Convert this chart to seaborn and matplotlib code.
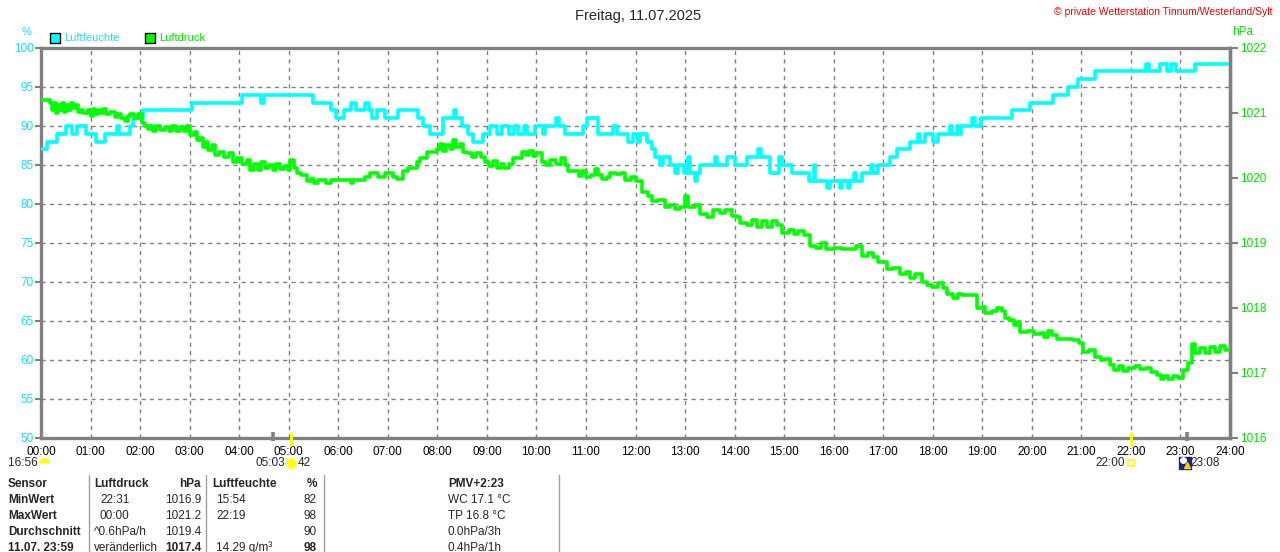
import matplotlib
matplotlib.use("Agg")
import matplotlib.pyplot as plt
from matplotlib.lines import Line2D
from matplotlib.patches import Rectangle
import seaborn as sns

# ? humidity (%) as steps: start hour -> value
hum_hours = [0.00, 0.12, 0.32, 0.50, 0.62, 0.72, 0.90, 1.12, 1.30, 1.53, 1.58, 1.80, 1.85, 2.05,
             3.05, 4.06, 4.45, 4.50, 5.50, 5.85, 5.95, 6.12, 6.25, 6.35, 6.55, 6.62, 6.68, 6.78,
             6.95, 7.20, 7.60, 7.72, 7.85, 8.12, 8.33, 8.38, 8.50, 8.62, 8.72, 8.92, 9.06, 9.20,
             9.30, 9.45, 9.55, 9.62, 9.75, 9.82, 9.97, 10.14, 10.17, 10.40, 10.45, 10.58, 10.94,
             11.03, 11.25, 11.55, 11.62, 11.85, 11.95, 12.05, 12.10, 12.24, 12.33, 12.40, 12.50,
             12.55, 12.70, 12.80, 12.85, 12.97, 13.05, 13.10, 13.20, 13.25, 13.30, 13.60, 13.65,
             13.84, 14.01, 14.25, 14.48, 14.53, 14.72, 14.90, 14.95, 15.15, 15.50, 15.60, 15.63,
             15.87, 15.93, 16.12, 16.16, 16.28, 16.32, 16.42, 16.46, 16.57, 16.75, 16.80, 16.90,
             17.13, 17.27, 17.54, 17.71, 17.75, 17.84, 18.00, 18.10, 18.34, 18.38, 18.48, 18.52,
             18.58, 18.80, 18.85, 18.97, 19.59, 19.96, 20.43, 20.74, 20.94, 21.28, 22.31, 22.36,
             22.58, 22.72, 22.81, 22.90, 23.29, 24.00]
hum_values = [87, 88, 89, 90, 89, 90, 89, 88, 89, 90, 89, 90, 91, 92,
              93, 94, 93, 94, 93, 92, 91, 92, 93, 92, 93, 92, 91, 92,
              91, 92, 91, 90, 89, 91, 92, 91, 90, 89, 88, 89, 90, 89,
              90, 89, 90, 89, 90, 89, 90, 89, 90, 91, 90, 89, 90,
              91, 89, 90, 89, 88, 89, 88, 89, 88, 87, 86, 85,
              86, 85, 84, 85, 84, 86, 84, 83, 84, 85, 86, 85,
              86, 85, 86, 87, 86, 84, 86, 85, 84, 83, 85, 83,
              82, 83, 82, 83, 82, 83, 84, 83, 84, 85, 84, 85,
              86, 87, 88, 89, 88, 89, 88, 89, 90, 89, 90, 89,
              90, 91, 90, 91, 92, 93, 94, 95, 96, 97, 98, 97,
              98, 97, 98, 97, 98, 98]

# ? air pressure (hPa)
press_hours = [0.00, 0.18, 0.22, 0.26, 0.30, 0.34, 0.38, 0.42, 0.46, 0.50, 0.55, 0.60, 0.65, 0.70,
               0.75, 0.80, 0.85, 0.95, 1.00, 1.05, 1.10, 1.15, 1.20, 1.25, 1.32, 1.40, 1.49, 1.55,
               1.62, 1.70, 1.75, 1.80, 1.88, 1.95, 2.03, 2.10, 2.15, 2.20, 2.27, 2.32, 2.40, 2.50,
               2.58, 2.65, 2.72, 2.80, 2.88, 2.95, 3.01, 3.08, 3.14, 3.20, 3.28, 3.33, 3.38, 3.45,
               3.51, 3.60, 3.70, 3.80, 3.88, 3.95, 4.05, 4.15, 4.22, 4.30, 4.38, 4.45, 4.52, 4.60,
               4.68, 4.75, 4.82, 4.90, 4.98, 5.03, 5.10, 5.16, 5.25, 5.36, 5.45, 5.52, 5.60, 5.75,
               5.85, 6.00, 6.25, 6.30, 6.54, 6.65, 6.80, 6.95, 7.10, 7.18, 7.31, 7.40, 7.58, 7.65,
               7.79, 7.99, 8.05, 8.12, 8.18, 8.25, 8.32, 8.38, 8.45, 8.52, 8.60, 8.70, 8.78, 8.88,
               8.96, 9.05, 9.12, 9.20, 9.28, 9.35, 9.45, 9.53, 9.60, 9.70, 9.78, 9.85, 9.93, 10.00,
               10.11, 10.20, 10.28, 10.40, 10.50, 10.58, 10.64, 10.85, 10.92, 11.00, 11.10, 11.18,
               11.25, 11.32, 11.42, 11.49, 11.60, 11.70, 11.79, 11.90, 12.00, 12.13, 12.25, 12.33,
               12.45, 12.60, 12.70, 12.80, 12.90, 13.00, 13.05, 13.20, 13.30, 13.45, 13.57, 13.70,
               13.81, 13.94, 14.05, 14.11, 14.25, 14.35, 14.45, 14.55, 14.65, 14.75, 14.85, 14.95,
               15.09, 15.20, 15.29, 15.40, 15.52, 15.65, 15.75, 15.85, 16.00, 16.16, 16.35, 16.45,
               16.57, 16.70, 16.80, 16.90, 17.07, 17.20, 17.34, 17.45, 17.55, 17.65, 17.78, 17.88,
               17.98, 18.10, 18.20, 18.28, 18.40, 18.50, 18.59, 18.80, 18.89, 19.00, 19.06, 19.20,
               19.29, 19.40, 19.46, 19.53, 19.63, 19.70, 19.76, 19.90, 20.05, 20.17, 20.25, 20.32,
               20.40, 20.50, 20.84, 20.95, 21.04, 21.15, 21.28, 21.40, 21.48, 21.58, 21.65, 21.75,
               21.85, 21.95, 22.08, 22.18, 22.30, 22.40, 22.52, 22.60, 22.66, 22.75, 22.85, 22.95,
               23.06, 23.16, 23.23, 23.30, 23.40, 23.50, 23.60, 23.70, 23.80, 23.90, 24.00]
press_values = [1021.20, 1021.15, 1021.05, 1021.15, 1021.00, 1021.12, 1021.05, 1021.15, 1021.02, 1021.12,
                1021.05, 1021.15, 1021.08, 1021.12, 1021.02, 1021.05, 1021.00, 1021.05, 1020.96, 1021.06,
                1020.98, 1021.05, 1021.00, 1021.06, 1020.98, 1021.02, 1020.94, 1020.98, 1020.92, 1020.88,
                1020.95, 1020.98, 1020.92, 1020.98, 1020.84, 1020.80, 1020.76, 1020.80, 1020.72, 1020.80,
                1020.74, 1020.78, 1020.72, 1020.80, 1020.73, 1020.78, 1020.72, 1020.80, 1020.66, 1020.70,
                1020.58, 1020.62, 1020.47, 1020.55, 1020.43, 1020.50, 1020.35, 1020.40, 1020.33, 1020.38,
                1020.25, 1020.30, 1020.22, 1020.28, 1020.12, 1020.22, 1020.12, 1020.25, 1020.15, 1020.20,
                1020.12, 1020.22, 1020.14, 1020.18, 1020.12, 1020.28, 1020.15, 1020.08, 1020.05, 1019.95,
                1019.98, 1019.92, 1019.97, 1019.92, 1019.97, 1019.97, 1019.92, 1019.97, 1020.02, 1020.07,
                1020.02, 1020.07, 1020.02, 1019.98, 1020.10, 1020.16, 1020.25, 1020.30, 1020.40, 1020.45,
                1020.52, 1020.42, 1020.50, 1020.45, 1020.58, 1020.48, 1020.52, 1020.40, 1020.38, 1020.32,
                1020.38, 1020.33, 1020.25, 1020.18, 1020.26, 1020.15, 1020.22, 1020.16, 1020.22, 1020.30,
                1020.30, 1020.40, 1020.35, 1020.42, 1020.34, 1020.38, 1020.25, 1020.20, 1020.27, 1020.22,
                1020.30, 1020.20, 1020.10, 1020.03, 1020.10, 1020.02, 1020.05, 1020.14, 1020.05, 1019.98,
                1020.02, 1020.08, 1020.06, 1020.08, 1019.97, 1020.02, 1019.95, 1019.78, 1019.72, 1019.64,
                1019.66, 1019.55, 1019.58, 1019.52, 1019.56, 1019.72, 1019.56, 1019.58, 1019.44, 1019.40,
                1019.50, 1019.46, 1019.50, 1019.42, 1019.40, 1019.30, 1019.28, 1019.36, 1019.25, 1019.34,
                1019.24, 1019.34, 1019.27, 1019.15, 1019.20, 1019.14, 1019.18, 1019.12, 1018.95, 1018.92,
                1019.00, 1018.90, 1018.92, 1018.91, 1018.91, 1018.95, 1018.80, 1018.84, 1018.78, 1018.70,
                1018.60, 1018.62, 1018.52, 1018.56, 1018.46, 1018.52, 1018.40, 1018.36, 1018.32, 1018.38,
                1018.30, 1018.22, 1018.15, 1018.22, 1018.20, 1018.20, 1018.00, 1018.02, 1017.92, 1017.95,
                1018.00, 1017.96, 1017.85, 1017.82, 1017.74, 1017.78, 1017.63, 1017.65, 1017.60, 1017.62,
                1017.55, 1017.65, 1017.58, 1017.52, 1017.50, 1017.46, 1017.32, 1017.36, 1017.24, 1017.20,
                1017.22, 1017.12, 1017.05, 1017.10, 1017.03, 1017.08, 1017.10, 1017.06, 1017.08, 1017.02,
                1016.97, 1016.90, 1016.95, 1016.90, 1016.96, 1016.92, 1017.05, 1017.15, 1017.45, 1017.30,
                1017.38, 1017.30, 1017.40, 1017.32, 1017.42, 1017.35, 1017.38]

hum_ticks = list(range(50, 101, 5))
press_ticks = list(range(1016, 1023))
hour_labels = [f"{h:02d}:00" for h in range(25)]

# * sun / moon events (hour)
moonset = 4.68
sunrise = 5.05
sunset = 22.0
moonrise = 23.13

# * summary table rows
table_rows = [
    ["Sensor", "Luftdruck", "hPa", "Luftfeuchte", "%", "PMV+2:23"],
    ["MinWert", "22:31", "1016.9", "15:54", "82", "WC 17.1 °C"],
    ["MaxWert", "00:00", "1021.2", "22:19", "98", "TP 16.8 °C"],
    ["Durchschnitt", "^0.6hPa/h", "1019.4", "", "90", "0.0hPa/3h"],
    ["11.07. 23:59", "veränderlich", "1017.4", "14.29 g/m³", "98", "0.4hPa/1h"],
]

CYAN = "#00FFFF"
CYAN_TXT = "#1EDCF0"
GREEN = "#00FF00"
GREEN_TXT = "#00E000"
GRAY = "#808080"

sns.set_style("white")
plt.rcParams["font.family"] = ["Liberation Sans", "DejaVu Sans"]

W, H = 1280, 552
fig = plt.figure(figsize=(12.8, 5.52), dpi=100)
ax = fig.add_axes([41 / W, 1 - 438 / H, (1230 - 41) / W, 390 / H])
ax2 = ax.twinx()


def fx(px):
    return px / W


def fy(py):
    return 1 - py / H


sns.lineplot(x=hum_hours, y=hum_values, ax=ax, color=CYAN, lw=2.6,
             drawstyle="steps-post", estimator=None, zorder=3)
sns.lineplot(x=press_hours, y=press_values, ax=ax2, color=GREEN, lw=2.6,
             drawstyle="steps-post", estimator=None, zorder=3)

ax.set_xlim(0, 24)
ax.set_ylim(50, 100)
ax2.set_ylim(1016, 1022)
ax.set_xticks(range(25))
ax.set_xticklabels(hour_labels)
ax.set_yticks(hum_ticks)
ax2.set_yticks(press_ticks)
ax.set_xlabel("")
ax.set_ylabel("")
ax2.set_ylabel("")

ax.grid(True, color=GRAY, linestyle=(0, (3, 3)), linewidth=1)
ax2.grid(False)
for side in ["left", "top", "bottom", "right"]:
    ax.spines[side].set_color(GRAY)
    ax.spines[side].set_linewidth(2.4)
    ax2.spines[side].set_visible(side == "right")
ax2.spines["right"].set_color(GRAY)
ax2.spines["right"].set_linewidth(2.4)

ax.tick_params(axis="x", length=0, pad=6, labelsize=8.5, labelcolor="black")
ax.tick_params(axis="y", length=4, width=1.5, color=GRAY, pad=1, labelsize=8.5,
               labelcolor=CYAN_TXT)
ax2.tick_params(axis="y", length=6, width=1.5, color=GRAY, pad=1, labelsize=8.5,
                labelcolor=GREEN_TXT)

# * event ticks on the time axis
xt = ax.get_xaxis_transform()
ax.vlines([moonset, moonrise], -0.008, 0.016, transform=xt, color=GRAY, lw=2.6,
          clip_on=False, zorder=5)
ax.vlines([sunrise, sunset], -0.02, 0.015, transform=xt, color="#FFFF00", lw=2.0,
          clip_on=False, zorder=5)

ev_y = -0.064
ax.plot([0.07], [ev_y], transform=xt, marker="o", ms=8, fillstyle="top", color="#FFFF00",
        markeredgewidth=0, clip_on=False)
ax.text(0.0, ev_y, "16:56 ", transform=xt, ha="right", va="center", fontsize=8.5)
ax.plot([sunrise], [ev_y], transform=xt, marker="o", ms=8, color="#FFFF00",
        markeredgecolor="#FFF7A0", markeredgewidth=1.5, clip_on=False)
ax.text(sunrise - 0.13, ev_y, "05:03", transform=xt, ha="right", va="center", fontsize=8.5)
ax.text(sunrise + 0.13, ev_y, "42", transform=xt, ha="left", va="center", fontsize=8.5)
ax.plot([sunset], [ev_y], transform=xt, marker="s", ms=5, markerfacecolor="white",
        markeredgecolor="#FFFF00", markeredgewidth=1.2, clip_on=False)
ax.text(sunset - 0.13, ev_y, "22:00", transform=xt, ha="right", va="center", fontsize=8.5)
ax.plot([moonrise - 0.03], [ev_y], transform=xt, marker="s", ms=9, color="#1A237E", clip_on=False)
ax.plot([moonrise - 0.08], [ev_y + 0.008], transform=xt, marker="o", ms=4, color="white", clip_on=False)
ax.plot([moonrise], [ev_y - 0.006], transform=xt, marker="^", ms=4, color="#FFD000", clip_on=False)
ax.text(moonrise + 0.07, ev_y, "23:08", transform=xt, ha="left", va="center", fontsize=8.5)

# ? header texts
fig.text(fx(638), fy(16), "Freitag, 11.07.2025", ha="center", va="center", fontsize=10.5)
fig.text(fx(1272), fy(12), "© private Wetterstation Tinnum/Westerland/Sylt", ha="right",
         va="center", fontsize=7.5, color="#FF0000")
fig.text(fx(27), fy(32), "%", ha="center", va="center", fontsize=8, color=CYAN_TXT)
fig.text(fx(1232), fy(32), "hPa", ha="left", va="center", fontsize=8.5, color=GREEN_TXT)

for x0, col, label, tcol in [(50, CYAN, "Luftfeuchte", CYAN_TXT), (145, GREEN, "Luftdruck", GREEN_TXT)]:
    fig.add_artist(Rectangle((fx(x0), fy(43)), 10 / W, 10 / H, transform=fig.transFigure,
                             facecolor=col, edgecolor="black", lw=1))
    fig.text(fx(x0 + 14), fy(38), label, ha="left", va="center", fontsize=8, color=tcol)

# ? summary table
for xs in [89, 206, 324, 559]:
    fig.add_artist(Line2D([fx(xs), fx(xs)], [fy(475), fy(552)], transform=fig.transFigure,
                          color="#A0A0A0", lw=1))

row_y = [484, 500, 516, 532, 548]
for i, row in enumerate(table_rows):
    y = fy(row_y[i])
    head = i == 0
    fig.text(fx(8), y, row[0], ha="left", va="center", fontsize=8.5, fontweight="bold")
    fig.text(fx(94 if i in (0, 3, 4) else 100), y, row[1], ha="left", va="center", fontsize=8.5,
             fontweight="bold" if head else "normal")
    fig.text(fx(201), y, row[2], ha="right", va="center", fontsize=8.5,
             fontweight="bold" if head or i == 4 else "normal")
    fig.text(fx(212 if head else 216), y, row[3], ha="left", va="center", fontsize=8.5,
             fontweight="bold" if head else "normal")
    fig.text(fx(317), y, row[4], ha="right", va="center", fontsize=8.5,
             fontweight="bold" if head or i == 4 else "normal")
    fig.text(fx(448), y, row[5], ha="left", va="center", fontsize=8.5,
             fontweight="bold" if head else "normal")

fig.savefig("out.png", dpi=100)
